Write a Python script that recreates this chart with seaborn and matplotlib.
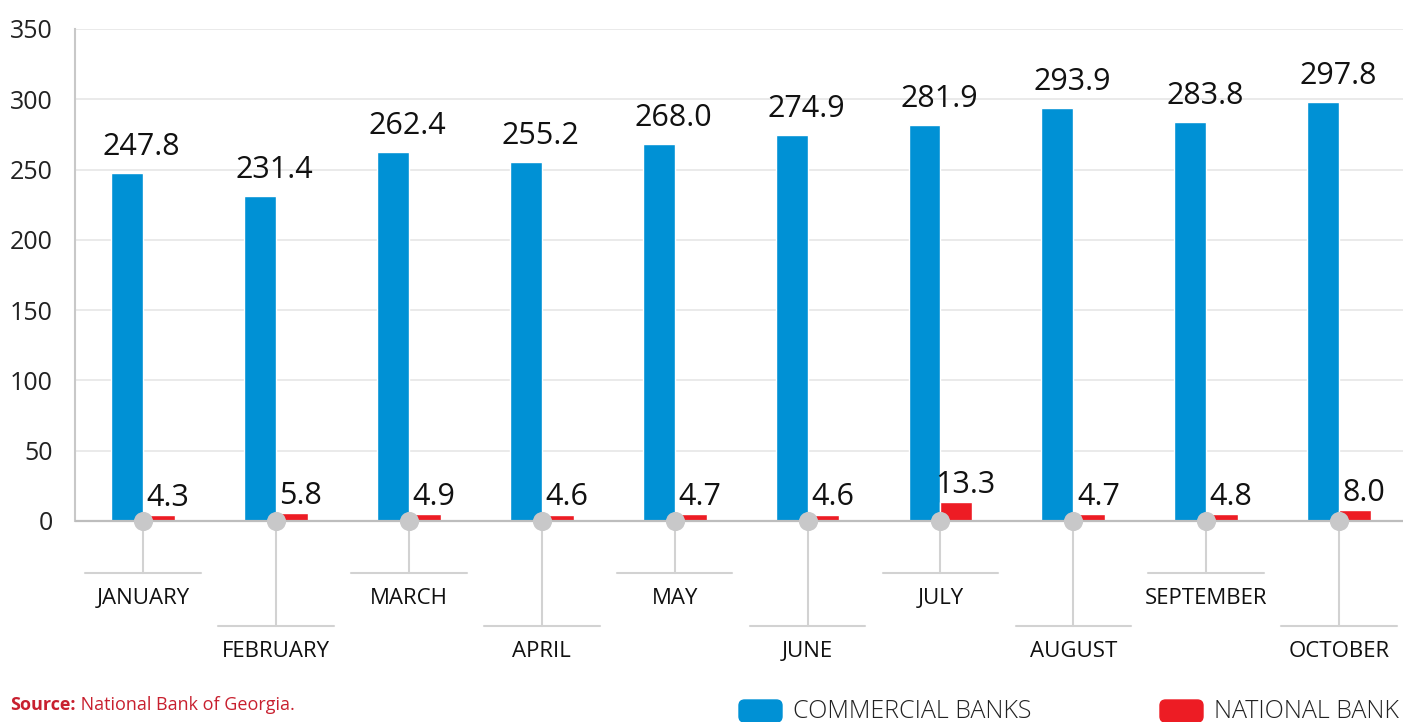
import pandas as pd
import matplotlib.pyplot as plt
import seaborn as sns
from matplotlib.patches import FancyBboxPatch

# data
months = ["JANUARY", "FEBRUARY", "MARCH", "APRIL", "MAY", "JUNE",
          "JULY", "AUGUST", "SEPTEMBER", "OCTOBER"]
commercial = [247.8, 231.4, 262.4, 255.2, 268.0, 274.9, 281.9, 293.9, 283.8, 297.8]
national = [4.3, 5.8, 4.9, 4.6, 4.7, 4.6, 13.3, 4.7, 4.8, 8.0]
series = ["COMMERCIAL BANKS", "NATIONAL BANK"]
colors = ["#0091D5", "#ED1C24"]
yticks = [0, 50, 100, 150, 200, 250, 300, 350]

df = pd.DataFrame({"Month": months * 2,
                   "Series": [series[0]] * len(months) + [series[1]] * len(months),
                   "Value": commercial + national})

sns.set_theme(style="white")
plt.rcParams['font.family'] = ['Open Sans', 'DejaVu Sans']

W, H = 1403, 722
fig = plt.figure(figsize=(W / 100, H / 100), dpi=100)
ax = fig.add_axes([75 / W, 0, 1 - 75 / W, (H - 29) / H])

sns.barplot(data=df, x="Month", y="Value", hue="Series", order=months,
            hue_order=series, palette=colors, width=0.48, saturation=1,
            errorbar=None, legend=False, ax=ax, zorder=2)

ax.set_ylim(-143, 350)
ax.set_xlim(-0.511, 9.48)
ax.set_yticks(yticks)
ax.set_xticks([])
ax.set_xlabel("")
ax.set_ylabel("")
ax.tick_params(axis="y", length=8, color="#D5D5D5", width=1.2, pad=8,
               labelsize=18, labelcolor="#222222")
for g in yticks[1:]:
    ax.axhline(g, color="#E6E6E6", lw=1.2, zorder=0)
ax.axhline(0, color="#BDBDBD", lw=1.6, zorder=3)

for s in ["top", "right", "bottom"]:
    ax.spines[s].set_visible(False)
ax.spines["left"].set_bounds(0, 350)
ax.spines["left"].set_color("#C8C8C8")
ax.spines["left"].set_linewidth(1.5)

# value labels
for bar, v in zip(ax.containers[0], commercial):
    ax.annotate(f"{v:.1f}", (bar.get_x() + bar.get_width(), v), xytext=(-1, 13),
                textcoords="offset points", ha="center", va="baseline",
                fontsize=22, color="#111111")
for bar, v in zip(ax.containers[1], national):
    ax.annotate(f"{v:.1f}", (bar.get_x() + bar.get_width() / 2, v), xytext=(6.5, 6.5),
                textcoords="offset points", ha="center", va="baseline",
                fontsize=22, color="#111111")

# month markers, connectors and labels
for i, m in enumerate(months):
    low = -37 if i % 2 == 0 else -74.7
    ax.plot([i, i], [0, low], color="#D2D2D2", lw=1.5, zorder=1, clip_on=False)
    ax.plot([i - 0.435, i + 0.435], [low, low], color="#D2D2D2", lw=1.5,
            zorder=1, clip_on=False)
    ax.text(i, low - 18, m, ha="center", va="center", fontsize=16,
            color="#111111")
ax.scatter(range(len(months)), [0] * len(months), s=190, color="#C8C8C9",
           zorder=5, clip_on=False, linewidths=0)

# source
t1 = fig.text(10 / W, 1 - 710 / H, "Source:", fontsize=13, fontweight="bold",
              color="#C8202F", ha="left", va="baseline")
ax.annotate(" National Bank of Georgia.", xy=(1, 0), xycoords=t1,
            ha="left", va="bottom", fontsize=13, color="#C8202F",
            annotation_clip=False)

# legend
for x0, x1, tx, c, lab in [(739, 782, 793, colors[0], series[0]),
                           (1160, 1203, 1214, colors[1], series[1])]:
    fig.patches.append(FancyBboxPatch((x0 / W, 0), (x1 - x0) / W, (H - 700) / H,
                                      boxstyle="round,pad=0,rounding_size=0.004",
                                      transform=fig.transFigure, color=c,
                                      mutation_aspect=W / H))
    fig.text(tx / W, 1 - 699 / H, lab, fontsize=18, fontweight="light",
             color="#222222", ha="left", va="top")

fig.savefig("out.png", dpi=100)
